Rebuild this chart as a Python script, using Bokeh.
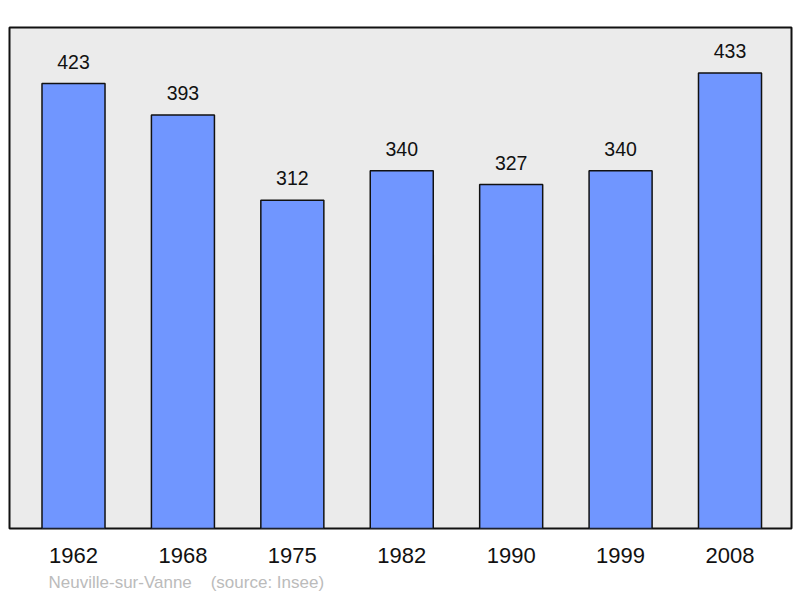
from bokeh.plotting import figure
from bokeh.models import Range1d, FixedTicker, Title, ColumnDataSource
from bokeh.core.properties import value
from bokeh.embed import file_html
from bokeh.resources import INLINE

years = ["1962", "1968", "1975", "1982", "1990", "1999", "2008"]
population = [423, 393, 312, 340, 327, 340, 433]
caption = "Neuville-sur-Vanne\u00a0\u00a0\u00a0\u00a0(source: Insee)"

idx = list(range(len(years)))
src = ColumnDataSource(dict(x=idx, top=population, label=[str(v) for v in population]))

p = figure(width=800, height=598, output_backend="svg", toolbar_location=None,
           x_range=Range1d(-0.585, len(years) - 1 + 0.562),
           y_range=Range1d(0, max(population) * 1.1),
           min_border_left=9, min_border_right=9, min_border_top=27, min_border_bottom=70)

p.background_fill_color = "#ebebeb"
p.border_fill_color = "white"
p.outline_line_color = "#111111"
p.outline_line_width = 2
p.grid.visible = False
p.yaxis.visible = False

p.vbar(x="x", top="top", width=0.576, bottom=0, source=src,
       fill_color="#7096ff", line_color="#111111", line_width=1.5)

p.text(x="x", y="top", text="label", source=src, y_offset=-22,
       text_align="center", text_baseline="middle",
       text_font=value("Liberation Sans"), text_font_size="19.5px", text_color="#111111")

ax = p.xaxis[0]
ax.ticker = FixedTicker(ticks=idx)
ax.major_label_overrides = {i: y for i, y in zip(idx, years)}
ax.axis_line_color = None
ax.major_tick_line_color = None
ax.minor_tick_line_color = None
ax.major_tick_out = 0
ax.major_label_standoff = 19
ax.major_label_text_font = "Liberation Sans"
ax.major_label_text_font_size = "22px"
ax.major_label_text_color = "#111111"

p.add_layout(Title(text=caption, align="left", offset=39, standoff=11,
                   text_font="Liberation Sans", text_font_size="17px",
                   text_font_style="normal", text_color="#bbbbbb"), "below")

open("out.html", "w").write(file_html(p, INLINE))
